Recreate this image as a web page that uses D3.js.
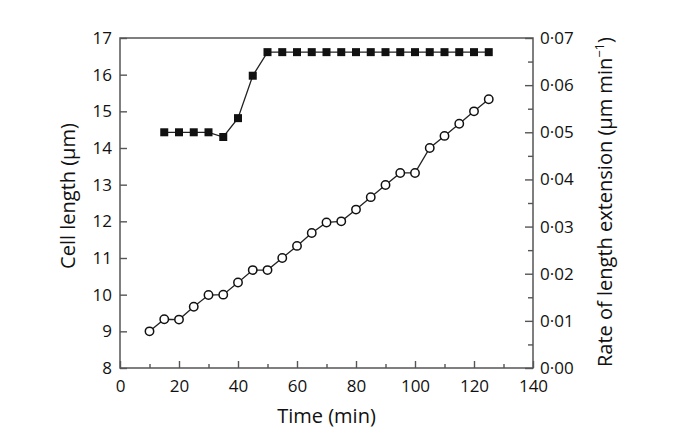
<!DOCTYPE html>
<html><head><meta charset="utf-8">
<script src="https://cdn.jsdelivr.net/npm/d3@7"></script>
<style>body{margin:0;background:#fff}svg{display:block}text{font-family:"Open Sans",sans-serif;fill:#111}</style>
</head><body>
<svg id="c" width="685" height="445"></svg>
<script>
const timeLength = [10,15,20,25,30,35,40,45,50,55,60,65,70,75,80,85,90,95,100,105,110,115,120,125];
const cellLength = [9,9.33,9.32,9.67,9.99,10,10.33,10.67,10.67,11,11.33,11.68,11.97,12,12.32,12.66,12.99,13.32,13.32,14,14.33,14.66,15,15.33];
const timeRate = [15,20,25,30,35,40,45,50,55,60,65,70,75,80,85,90,95,100,105,110,115,120,125];
const rate = [0.05,0.05,0.05,0.05,0.049,0.053,0.062,0.067,0.067,0.067,0.067,0.067,0.067,0.067,0.067,0.067,0.067,0.067,0.067,0.067,0.067,0.067,0.067];
const xTicks = [0,20,40,60,80,100,120,140];
const xMinorTicks = [10,30,50,70,90,110,130];
const yLeftTicks = [8,9,10,11,12,13,14,15,16,17];
const yRightTicks = [0,0.01,0.02,0.03,0.04,0.05,0.06,0.07];
const yRightMinorTicks = [0.005,0.015,0.025,0.035,0.045,0.055,0.065];

const svg = d3.select("#c");
const L=120,R=533,T=38,B=368;
const x = d3.scaleLinear().domain([0,140]).range([L,R]);
const yL = d3.scaleLinear().domain([8,17]).range([B,T]);
const yR = d3.scaleLinear().domain([0,0.07]).range([B,T]);
const axisCol="#555";
const fs = 17;

// frame
svg.append("rect").attr("x",L).attr("y",T).attr("width",R-L).attr("height",B-T)
  .attr("fill","none").attr("stroke",axisCol).attr("stroke-width",1.5);

function style(g){
  g.select(".domain").remove();
  g.selectAll("line").attr("stroke",axisCol).attr("stroke-width",1.4);
  g.selectAll("text").attr("font-size",fs).attr("fill","#111");
}

// bottom axis
svg.append("g").attr("transform",`translate(0,${B})`)
  .call(d3.axisBottom(x).tickValues(xMinorTicks).tickSize(-4).tickFormat("")).call(style);
svg.append("g").attr("transform",`translate(0,${B})`)
  .call(d3.axisBottom(x).tickValues(xTicks).tickSize(-7).tickPadding(12).tickFormat(d3.format("d"))).call(style);

// left axis
svg.append("g").attr("transform",`translate(${L},0)`)
  .call(d3.axisLeft(yL).tickValues(yLeftTicks).tickSize(-7).tickPadding(8).tickFormat(d3.format("d"))).call(style);

// right axis
svg.append("g").attr("transform",`translate(${R},0)`)
  .call(d3.axisRight(yR).tickValues(yRightMinorTicks).tickSize(-5).tickFormat("")).call(style);
svg.append("g").attr("transform",`translate(${R},0)`)
  .call(d3.axisRight(yR).tickValues(yRightTicks).tickSize(-8).tickPadding(7)
    .tickFormat(d=>d3.format(".2f")(d).replace(".","\u00B7"))).call(style);

// titles
const tfs = 20;
svg.append("text").attr("x",(L+R)/2).attr("y",423).attr("text-anchor","middle").attr("font-size",tfs).text("Time (min)");
svg.append("text").attr("transform",`translate(75,196) rotate(-90)`).attr("text-anchor","middle").attr("font-size",tfs).text("Cell length (\u03BCm)");
const rt = svg.append("text").attr("transform",`translate(612,202) rotate(-90)`).attr("text-anchor","middle").attr("font-size",tfs);
rt.append("tspan").text("Rate of length extension (\u03BCm min");
rt.append("tspan").attr("dy",-8).attr("font-size",13).text("\u22121");
rt.append("tspan").attr("dy",8).text(")");

// rate line
const lineR = d3.line().x((d,i)=>x(timeRate[i])).y(d=>yR(d));
svg.append("path").datum(rate).attr("d",lineR).attr("fill","none").attr("stroke","#222").attr("stroke-width",1.3);
svg.selectAll("rect.sq").data(rate).enter().append("rect").attr("class","sq")
  .attr("x",(d,i)=>x(timeRate[i])-4).attr("y",d=>yR(d)-4).attr("width",8).attr("height",8).attr("fill","#111");

// length line
const lineL = d3.line().x((d,i)=>x(timeLength[i])).y(d=>yL(d));
svg.append("path").datum(cellLength).attr("d",lineL).attr("fill","none").attr("stroke","#222").attr("stroke-width",1.3);
svg.selectAll("circle.ci").data(cellLength).enter().append("circle").attr("class","ci")
  .attr("cx",(d,i)=>x(timeLength[i])).attr("cy",d=>yL(d)).attr("r",4.2).attr("fill","#fff").attr("stroke","#111").attr("stroke-width",1.5);
</script>
</body></html>
